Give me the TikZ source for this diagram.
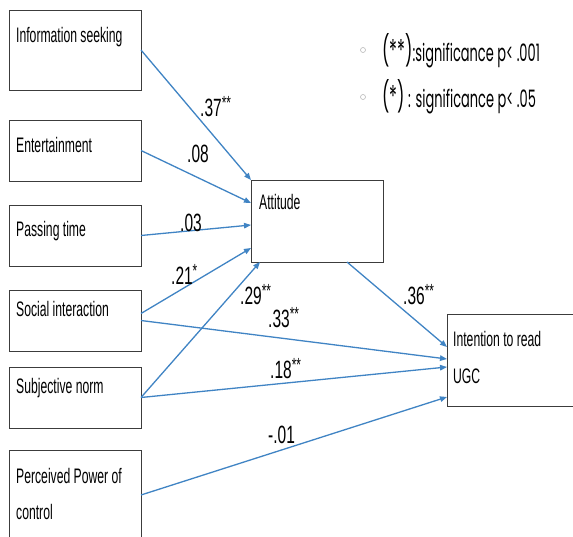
\documentclass[tikz,border=0pt]{standalone}
\usepackage{fontspec}
\newfontfamily\boxfont[FakeStretch=0.58]{Liberation Sans}
\newfontfamily\coeffont[FakeStretch=0.62]{Liberation Sans}
\newfontfamily\legfont[FakeStretch=0.54]{Poppins}
\usetikzlibrary{arrows.meta,calc}
\definecolor{arrowblue}{RGB}{64,132,196}
\definecolor{boxline}{RGB}{60,60,60}
\newcommand{\stars}[1]{\raisebox{7pt}{\fontsize{19}{19}\selectfont #1}}
\begin{document}
\begin{tikzpicture}[x=1pt,y=-1pt,
  box/.style={draw=boxline,line width=0.9pt,anchor=north west,inner sep=0pt,outer sep=0pt,minimum width=132pt},
  boxtext/.style={anchor=base west,inner sep=0pt,font=\boxfont\fontsize{21}{21}\selectfont},
  coef/.style={anchor=base west,inner sep=0pt,font=\coeffont\fontsize{25}{25}\selectfont},
  legtext/.style={anchor=base west,inner sep=0pt,font=\legfont\fontsize{24}{24}\selectfont},
  bullet/.style={circle,draw=gray!55,line width=0.6pt,minimum size=5pt,inner sep=0pt},
  link/.style={draw=arrowblue,line width=1.3pt,-{Triangle[length=7pt,width=5.5pt]}}
]
\clip (0,0) rectangle (573,537);
\fill[white] (0,0) rectangle (573,537);

% boxes
\node[box,minimum height=80pt] (info) at (9,10) {};
\node[box,minimum height=61pt] (ent) at (9,120) {};
\node[box,minimum height=61pt] (pass) at (9,205) {};
\node[box,minimum height=61pt] (social) at (9,290) {};
\node[box,minimum height=61pt] (subj) at (9,367) {};
\node[box,minimum height=90pt] (ppc) at (9,450) {};
\node[box,minimum height=82pt] (att) at (251,180) {};
\node[box,minimum width=130pt,minimum height=92pt] (int) at (447,314) {};

% box texts
\node[boxtext] (tinfo) at (16,43) {Information seeking};
\node[boxtext] (tent) at (16,153) {Entertainment};
\node[boxtext] (tpass) at (16,237) {Passing time};
\node[boxtext] (tsocial) at (16,317) {Social interaction};
\node[boxtext] (tsubj) at (16,393) {Subjective norm};
\node[boxtext] (tppc1) at (16,483) {Perceived Power of};
\node[boxtext] (tppc2) at (16,519) {control};
\node[boxtext] (tatt) at (259,210) {Attitude};
\node[boxtext] (tint1) at (453,347) {Intention to read};
\node[boxtext] (tint2) at (453,383) {UGC};

% connectors
\draw[link] (info.east) -- (att.north west);
\draw[link] (ent.east) -- ($(att.north west)+(0,23)$);
\draw[link] (pass.east) -- ($(att.west)+(0,4)$);
\draw[link] ($(social.east)+(0,-7)$) -- ($(att.west)+(0,27)$);
\draw[link] (subj.east) -- ($(att.south west)+(9,0)$);
\draw[link] (social.east) -- ($(int.west)+(0,-1)$);
\draw[link] (subj.east) -- ($(int.west)+(0,7)$);
\draw[link] (ppc.east) -- ($(int.west)+(0,37)$);
\draw[link] ($(att.south west)+(96,0)$) -- ($(int.west)+(0,-13)$);

% coefficients
\node[coef] (c1) at (200,117) {.37\stars{**}};
\node[coef] (c2) at (187,163) {.08};
\node[coef] (c3) at (180,232) {.03};
\node[coef] (c4) at (171,285) {.21\stars{*}};
\node[coef] (c5) at (240,305) {.29\stars{**}};
\node[coef] (c6) at (268,327) {.33\stars{**}};
\node[coef] (c7) at (270,378) {.18\stars{**}};
\node[coef] (c8) at (268,443) {-.01};
\node[coef] (c9) at (403,305) {.36\stars{**}};

% legend
\node[bullet] (b1) at (363,50) {};
\node[bullet] (b2) at (363,97) {};
\node[legtext] (l1) at (382,62) {{\fontsize{30}{30}\selectfont(**)}:significance p< .001};
\node[legtext] (l2) at (382,108) {{\fontsize{30}{30}\selectfont(*)} : significance p< .05};
\end{tikzpicture}
\end{document}
